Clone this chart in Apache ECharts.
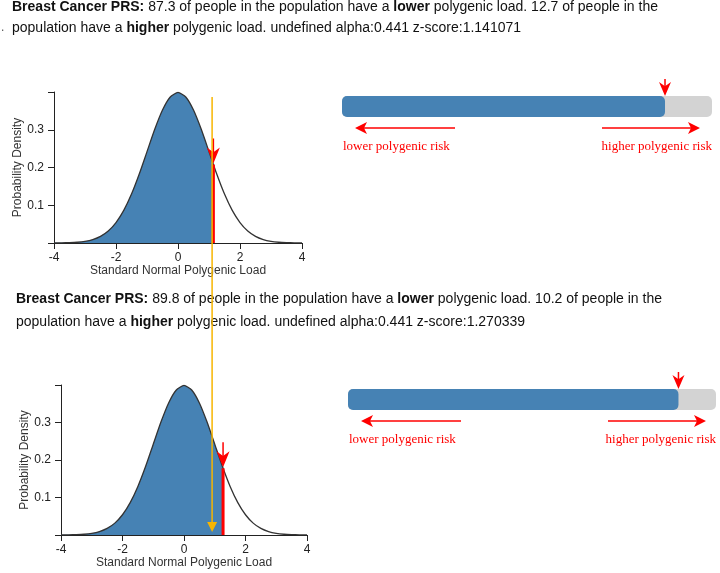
<!DOCTYPE html>
<html>
<head>
<meta charset="utf-8">
<script src="https://cdn.jsdelivr.net/npm/echarts@6/dist/echarts.min.js"></script>
<style>
  html, body { margin: 0; padding: 0; background: #fff; }
  #chart-container { width: 720px; height: 573px; }
</style>
</head>
<body>
<div id="chart-container"></div>
<script>
// standard normal curve
const zGrid = [-4, -3.75, -3.5, -3.25, -3, -2.75, -2.5, -2.25, -2, -1.75, -1.5, -1.25, -1, -0.75, -0.5, -0.25,
  0, 0.25, 0.5, 0.75, 1, 1.25, 1.5, 1.75, 2, 2.25, 2.5, 2.75, 3, 3.25, 3.5, 3.75, 4];
const density = [0.0001, 0.0004, 0.0009, 0.0020, 0.0044, 0.0091, 0.0175, 0.0317, 0.0540, 0.0863, 0.1295, 0.1826,
  0.2420, 0.3011, 0.3521, 0.3867, 0.3989, 0.3867, 0.3521, 0.3011, 0.2420, 0.1826, 0.1295, 0.0863, 0.0540, 0.0317,
  0.0175, 0.0091, 0.0044, 0.0020, 0.0009, 0.0004, 0.0001];

// one entry per panel
const traitNames = ['Breast Cancer PRS:', 'Breast Cancer PRS:'];
const lowerPct = [87.3, 89.8];
const higherPct = [12.7, 10.2];
const alphaVals = [0.441, 0.441];
const zScores = [1.141071, 1.270339];
const densityAtZ = [0.208, 0.178];

// where the hand-drawn yellow marker sits (top panel z, bottom panel density)
const markerZ = 1.10;
const markerTopDensity = 0.387;
const markerBottomDensity = 0.008;

const FONT = '"Liberation Sans", Arial, sans-serif';
const SERIF = '"Liberation Serif", "Times New Roman", serif';
const BLUE = '#4682b4';
const GREY = '#d3d3d3';
const GOLD = '#f7b500';

const layouts = [
  { dens: { left: 54, top: 92, width: 248, height: 151 }, bar: { left: 342, top: 96, width: 370, height: 21 }, textX: 12, textY: [7, 28] },
  { dens: { left: 61, top: 385, width: 246, height: 150 }, bar: { left: 348, top: 389, width: 368, height: 21 }, textX: 16, textY: [299, 322] }
];

var chartDom = document.getElementById('chart-container');
var myChart = echarts.init(chartDom);

const grid = [], xAxis = [], yAxis = [], series = [];

layouts.forEach((lay, i) => {
  // density chart
  grid.push(Object.assign({}, lay.dens));
  xAxis.push({
    type: 'value', gridIndex: 2 * i, min: -4, max: 4, interval: 2,
    name: 'Standard Normal Polygenic Load', nameLocation: 'middle', nameGap: 22,
    nameTextStyle: { fontSize: 12, color: '#333', fontFamily: FONT },
    axisLine: { show: true, onZero: false, lineStyle: { color: '#222', width: 1 } },
    axisTick: { show: true, length: 6, lineStyle: { color: '#222' } },
    axisLabel: { fontSize: 12, color: '#222', fontFamily: FONT, margin: 9, showMinLabel: true, showMaxLabel: true },
    splitLine: { show: false }
  });
  yAxis.push({
    type: 'value', gridIndex: 2 * i, min: 0, max: 0.4, interval: 0.1,
    name: 'Probability Density', nameLocation: 'middle', nameRotate: 90, nameGap: 29,
    nameTextStyle: { fontSize: 12, color: '#333', fontFamily: FONT },
    axisLine: { show: true, onZero: false, lineStyle: { color: '#222', width: 1 } },
    axisTick: { show: true, length: 6, lineStyle: { color: '#222' } },
    axisLabel: {
      fontSize: 12, color: '#222', fontFamily: FONT, margin: 10,
      formatter: v => (v > 0.05 && v < 0.35) ? v.toFixed(1) : ''
    },
    splitLine: { show: false }
  });

  const filled = [];
  for (let k = 0; k < zGrid.length; k++) {
    if (zGrid[k] < zScores[i]) filled.push([zGrid[k], density[k]]);
  }
  filled.push([zScores[i], densityAtZ[i]]);

  series.push({
    type: 'line', xAxisIndex: 2 * i, yAxisIndex: 2 * i, data: filled,
    smooth: 0.2, showSymbol: false, silent: true,
    lineStyle: { width: 0 },
    areaStyle: { color: BLUE, opacity: 1, origin: 'start' },
    z: 2
  });
  series.push({
    type: 'line', xAxisIndex: 2 * i, yAxisIndex: 2 * i,
    data: zGrid.map((x, k) => [x, density[k]]),
    smooth: 0.2, showSymbol: false, silent: true,
    lineStyle: { color: '#333', width: 1.3 },
    z: 3
  });

  // progress bar
  grid.push(Object.assign({}, lay.bar));
  xAxis.push({ type: 'value', gridIndex: 2 * i + 1, min: 0, max: 100, show: false });
  yAxis.push({ type: 'category', gridIndex: 2 * i + 1, data: ['risk'], show: false });
  series.push({
    type: 'bar', xAxisIndex: 2 * i + 1, yAxisIndex: 2 * i + 1,
    data: [lowerPct[i] + higherPct[i]], barWidth: '100%', silent: true,
    itemStyle: { color: GREY, borderRadius: 5 }
  });
  series.push({
    type: 'bar', xAxisIndex: 2 * i + 1, yAxisIndex: 2 * i + 1,
    data: [lowerPct[i]], barWidth: '100%', barGap: '-100%', silent: true,
    itemStyle: { color: BLUE, borderRadius: 5 }
  });
});

var option = {
  animation: false,
  backgroundColor: '#fff',
  grid: grid,
  xAxis: xAxis,
  yAxis: yAxis,
  series: series
};
myChart.setOption(option);

// annotations placed from the axes' own scales
const graphic = [];
const redLine = (x1, y1, x2, y2, w) => ({
  type: 'line', shape: { x1, y1, x2, y2 }, style: { stroke: 'red', lineWidth: w }, z: 50
});
const downHead = (x, y, hw, h, color) => ({
  type: 'polygon', shape: { points: [[x - hw, y - h], [x, y - h * 0.7], [x + hw, y - h], [x, y]] },
  style: { fill: color }, z: 51
});
const sideHead = (x, y, dir, color) => ({
  type: 'polygon', shape: { points: [[x, y], [x - dir * 12, y - 6], [x - dir * 9, y], [x - dir * 12, y + 6]] },
  style: { fill: color }, z: 51
});

layouts.forEach((lay, i) => {
  const p = myChart.convertToPixel({ gridIndex: 2 * i }, [zScores[i], densityAtZ[i]]);
  const base = myChart.convertToPixel({ gridIndex: 2 * i }, [zScores[i], 0]);
  graphic.push(redLine(p[0], p[1], p[0], base[1], 3));
  graphic.push(redLine(p[0], p[1] - 26, p[0], p[1] - 12, 1.5));
  graphic.push(downHead(p[0], p[1] - 1, 6.5, 16, 'red'));

  // bar pointer and risk arrows
  const bx = myChart.convertToPixel({ xAxisIndex: 2 * i + 1 }, lowerPct[i]);
  const b = lay.bar;
  graphic.push(redLine(bx, b.top - 17, bx, b.top - 8, 1.5));
  graphic.push(downHead(bx, b.top, 6, 14, 'red'));
  const ay = b.top + b.height + 11;
  graphic.push(redLine(b.left + 20, ay, b.left + 113, ay, 1.5));
  graphic.push(sideHead(b.left + 13, ay, -1, 'red'));
  graphic.push(redLine(b.left + 260, ay, b.left + 350, ay, 1.5));
  graphic.push(sideHead(b.left + 358, ay, 1, 'red'));
  graphic.push({
    type: 'text', x: b.left + 1, y: b.top + b.height + 30,
    style: { text: 'lower polygenic risk', fill: 'red', fontSize: 13, fontFamily: SERIF, verticalAlign: 'middle', align: 'left' }
  });
  graphic.push({
    type: 'text', x: b.left + b.width, y: b.top + b.height + 30,
    style: { text: 'higher polygenic risk', fill: 'red', fontSize: 13, fontFamily: SERIF, verticalAlign: 'middle', align: 'right' }
  });

  // description text
  const rich = { b: { fontWeight: 'bold', fontSize: 14, fontFamily: FONT, fill: '#111' }, n: { fontSize: 14, fontFamily: FONT, fill: '#111' } };
  graphic.push({
    type: 'text', x: lay.textX, y: lay.textY[0],
    style: {
      text: '{b|' + traitNames[i] + '}{n| ' + lowerPct[i] + ' of people in the population have a }{b|lower}{n| polygenic load. ' + higherPct[i] + ' of people in the}',
      rich: rich, fontSize: 14, fontFamily: FONT, fill: '#111', verticalAlign: 'middle'
    }
  });
  graphic.push({
    type: 'text', x: lay.textX, y: lay.textY[1],
    style: {
      text: '{n|population have a }{b|higher}{n| polygenic load. undefined alpha:' + alphaVals[i] + ' z-score:' + zScores[i] + '}',
      rich: rich, fontSize: 14, fontFamily: FONT, fill: '#111', verticalAlign: 'middle'
    }
  });
});

// yellow marker spanning both panels
const mTop = myChart.convertToPixel({ gridIndex: 0 }, [markerZ, markerTopDensity]);
const mBot = myChart.convertToPixel({ gridIndex: 2 }, [0, markerBottomDensity]);
graphic.push({
  type: 'line', shape: { x1: mTop[0], y1: mTop[1], x2: mTop[0], y2: mBot[1] - 6 },
  style: { stroke: GOLD, lineWidth: 1.5 }, z: 60
});
graphic.push({
  type: 'polygon', shape: { points: [[mTop[0] - 5, mBot[1] - 10], [mTop[0] + 5, mBot[1] - 10], [mTop[0], mBot[1]]] },
  style: { fill: GOLD }, z: 61
});
graphic.push({ type: 'text', x: 1, y: 22, style: { text: '.', fontSize: 12, fill: '#555', fontFamily: FONT } });

myChart.setOption({ graphic: graphic });
</script>
</body>
</html>
